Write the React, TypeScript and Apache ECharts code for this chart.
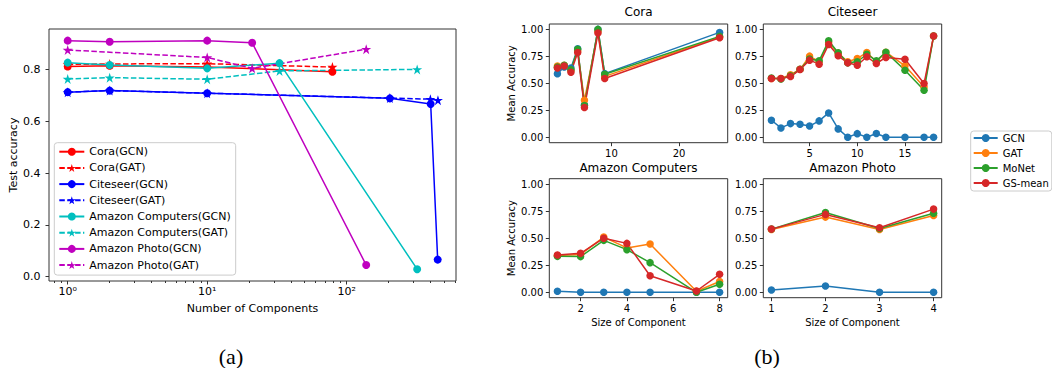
import React, { useEffect, useRef } from 'react';
import * as echarts from 'echarts';

// ---------- (a) Test accuracy vs number of components ----------
const coraGcnX = [1, 2, 10, 79];
const coraGcnY = [0.812, 0.815, 0.81, 0.792];
const coraGatX = [1, 2, 10, 79];
const coraGatY = [0.82, 0.822, 0.823, 0.81];
const citeseerGcnX = [1, 2, 10, 204, 400, 449];
const citeseerGcnY = [0.713, 0.719, 0.709, 0.689, 0.667, 0.066];
const citeseerGatX = [1, 2, 10, 204, 398, 451];
const citeseerGatY = [0.713, 0.719, 0.709, 0.69, 0.686, 0.682];
const compGcnX = [1, 2, 10, 33, 320];
const compGcnY = [0.827, 0.818, 0.805, 0.825, 0.029];
const compGatX = [1, 2, 10, 33, 320];
const compGatY = [0.764, 0.769, 0.763, 0.795, 0.801];
const photoGcnX = [1, 2, 10, 21, 138];
const photoGcnY = [0.912, 0.908, 0.912, 0.904, 0.045];
const photoGatX = [1, 10, 21, 138];
const photoGatY = [0.876, 0.847, 0.805, 0.879];

const leftNames = [
  'Cora(GCN)', 'Cora(GAT)', 'Citeseer(GCN)', 'Citeseer(GAT)',
  'Amazon Computers(GCN)', 'Amazon Computers(GAT)', 'Amazon Photo(GCN)', 'Amazon Photo(GAT)',
];
const logMajorTicks = [1, 10, 100];
const logTickLabels = ['10\u2070', '10\u00b9', '10\u00b2'];
const logMinorTicks = [0.8, 0.9, 2, 3, 4, 5, 6, 7, 8, 9, 20, 30, 40, 50, 60, 70, 80, 90, 200, 300, 400, 500, 600];
const leftYTicks = [0, 0.2, 0.4, 0.6, 0.8];

// ---------- (b) Mean accuracy vs size of component ----------
const methodNames = ['GCN', 'GAT', 'MoNet', 'GS-mean'];

const coraSizes = [2, 3, 4, 5, 6, 8, 9, 26];
const coraGCN = [0.59, 0.652, 0.643, 0.82, 0.3, 1.0, 0.59, 0.972];
const coraGAT = [0.66, 0.668, 0.62, 0.8, 0.343, 0.98, 0.565, 0.93];
const coraMoNet = [0.65, 0.668, 0.625, 0.815, 0.295, 1.0, 0.585, 0.935];
const coraGSmean = [0.643, 0.66, 0.603, 0.786, 0.276, 0.966, 0.545, 0.922];

const citeSizes = [1, 2, 3, 4, 5, 6, 7, 8, 9, 10, 11, 12, 13, 15, 17, 18];
const citeGCN = [0.158, 0.087, 0.127, 0.121, 0.104, 0.152, 0.226, 0.078, 0.0, 0.034, 0.0, 0.035, 0.0, 0.0, 0.0, 0.0];
const citeGAT = [0.545, 0.545, 0.58, 0.63, 0.752, 0.7, 0.88, 0.78, 0.7, 0.73, 0.786, 0.7, 0.789, 0.662, 0.467, 0.938];
const citeMoNet = [0.55, 0.54, 0.57, 0.63, 0.725, 0.709, 0.894, 0.783, 0.69, 0.7, 0.77, 0.71, 0.789, 0.622, 0.436, 0.938];
const citeGSmean = [0.545, 0.545, 0.563, 0.628, 0.715, 0.678, 0.86, 0.755, 0.69, 0.668, 0.746, 0.684, 0.74, 0.724, 0.498, 0.938];

const compSizes = [1, 2, 3, 4, 5, 7, 8];
const compGCN = [0.01, 0.0, 0.0, 0.0, 0.0, 0.0, 0.0];
const compGAT = [0.34, 0.35, 0.51, 0.41, 0.446, 0.01, 0.1];
const compMoNet = [0.332, 0.33, 0.48, 0.394, 0.274, 0.0, 0.074];
const compGSmean = [0.344, 0.36, 0.5, 0.452, 0.153, 0.012, 0.166];

const photoSizes = [1, 2, 3, 4];
const photoGCN = [0.021, 0.058, 0.0, 0.0];
const photoGAT = [0.58, 0.695, 0.58, 0.71];
const photoMoNet = [0.584, 0.738, 0.59, 0.73];
const photoGSmean = [0.584, 0.72, 0.597, 0.769];

const panelTitles = ['Cora', 'Citeseer', 'Amazon Computers', 'Amazon Photo'];
const panelSizes = [coraSizes, citeSizes, compSizes, photoSizes];
const panelValues = [
  [coraGCN, coraGAT, coraMoNet, coraGSmean],
  [citeGCN, citeGAT, citeMoNet, citeGSmean],
  [compGCN, compGAT, compMoNet, compGSmean],
  [photoGCN, photoGAT, photoMoNet, photoGSmean],
];
const panelXTicks = [[10, 20], [5, 10, 15], [2, 4, 6, 8], [1, 2, 3, 4]];
const panelXRange = [[0.8, 27.2], [0.15, 18.85], [0.65, 8.35], [0.85, 4.15]];
const rightYTicks = [0, 0.25, 0.5, 0.75, 1.0];

const FONT = 'DejaVu Sans';
const AX = '#333333';
const STAR = 'path://M0,-10L2.245,-3.09L9.511,-3.09L3.633,1.18L5.878,8.09L0,3.82L-5.878,8.09L-3.633,1.18L-9.511,-3.09L-2.245,-3.09Z';
const leftColors = ['#ff0000', '#ff0000', '#0000ff', '#0000ff', '#00bfbf', '#00bfbf', '#bf00bf', '#bf00bf'];
const rightColors = ['#1f77b4', '#ff7f0e', '#2ca02c', '#d62728'];

// layout of the four small panels: [left, top, width, height]
const panelBoxes = [
  [549.3, 24, 178.4, 118.7],
  [763.3, 24, 178.4, 118.7],
  [549.3, 178.7, 178.4, 119],
  [763.3, 178.7, 178.4, 119],
];

function buildOption() {
  const leftXs = [coraGcnX, coraGatX, citeseerGcnX, citeseerGatX, compGcnX, compGatX, photoGcnX, photoGatX];
  const leftYs = [coraGcnY, coraGatY, citeseerGcnY, citeseerGatY, compGcnY, compGatY, photoGcnY, photoGatY];

  const txt = (size: number) => ({ fontFamily: FONT, fontSize: size, color: '#000' });

  const grid: any[] = [
    { left: 49, top: 29, width: 407, height: 252, show: true, borderColor: AX, borderWidth: 1, backgroundColor: 'transparent', containLabel: false },
  ];
  panelBoxes.forEach((b) => {
    grid.push({ left: b[0], top: b[1], width: b[2], height: b[3], show: true, borderColor: AX, borderWidth: 1, backgroundColor: 'transparent', containLabel: false });
  });

  const xAxis: any[] = [
    {
      type: 'log', logBase: 10, gridIndex: 0, position: 'bottom', min: 0.7345, max: 607.5,
      axisLine: { show: false, onZero: false }, splitLine: { show: false },
      axisTick: { show: true, length: 3.5, lineStyle: { color: AX }, customValues: logMajorTicks },
      axisLabel: {
        customValues: logMajorTicks, margin: 5, ...txt(11),
        formatter: (v: number) => logTickLabels[Math.round(Math.log10(v))],
      },
      name: 'Number of Components', nameLocation: 'middle', nameGap: 22, nameTextStyle: txt(11),
    },
    {
      type: 'log', logBase: 10, gridIndex: 0, position: 'bottom', min: 0.7345, max: 607.5,
      axisLine: { show: false, onZero: false }, splitLine: { show: false },
      axisTick: { show: true, length: 2, lineStyle: { color: AX }, customValues: logMinorTicks },
      axisLabel: { show: false },
    },
  ];
  const yAxis: any[] = [
    {
      type: 'value', gridIndex: 0, min: -0.0166, max: 0.957,
      axisLine: { show: false, onZero: false }, splitLine: { show: false },
      axisTick: { show: true, length: 3.5, lineStyle: { color: AX }, customValues: leftYTicks },
      axisLabel: { customValues: leftYTicks, margin: 8.5, ...txt(11), formatter: (v: number) => v.toFixed(1) },
      name: 'Test accuracy', nameLocation: 'middle', nameGap: 30, nameTextStyle: txt(11),
    },
  ];

  panelBoxes.forEach((b, i) => {
    xAxis.push({
      type: 'value', gridIndex: i + 1, position: 'bottom', min: panelXRange[i][0], max: panelXRange[i][1],
      axisLine: { show: false, onZero: false }, splitLine: { show: false },
      axisTick: { show: true, length: 3.5, lineStyle: { color: AX }, customValues: panelXTicks[i] },
      axisLabel: { customValues: panelXTicks[i], margin: 6, ...txt(10) },
      name: i >= 2 ? 'Size of Component' : '', nameLocation: 'middle', nameGap: 20, nameTextStyle: txt(10),
    });
    yAxis.push({
      type: 'value', gridIndex: i + 1, min: -0.05, max: 1.05,
      axisLine: { show: false, onZero: false }, splitLine: { show: false },
      axisTick: { show: true, length: 3.5, lineStyle: { color: AX }, customValues: rightYTicks },
      axisLabel: { customValues: rightYTicks, margin: 6, ...txt(10), formatter: (v: number) => v.toFixed(2) },
      name: i % 2 === 0 ? 'Mean Accuracy' : '', nameLocation: 'middle', nameGap: 33, nameTextStyle: txt(10),
    });
  });

  const series: any[] = [];
  leftNames.forEach((name, i) => {
    const dashed = i % 2 === 1;
    const c = leftColors[i];
    series.push({
      type: 'line', name, xAxisIndex: 0, yAxisIndex: 0,
      data: leftXs[i].map((x, j) => [x, leftYs[i][j]]),
      symbol: dashed ? STAR : 'circle', symbolSize: dashed ? 10 : 8, showAllSymbol: true,
      lineStyle: { color: c, width: 1.5, type: dashed ? [5.5, 2.4] : 'solid' },
      itemStyle: { color: c },
      clip: false, silent: true, emphasis: { disabled: true },
    });
  });
  panelValues.forEach((vals, p) => {
    vals.forEach((ys, m) => {
      series.push({
        type: 'line', name: methodNames[m], xAxisIndex: p + 2, yAxisIndex: p + 1,
        data: panelSizes[p].map((x, j) => [x, ys[j]]),
        symbol: 'circle', symbolSize: 7.5, showAllSymbol: true,
        lineStyle: { color: rightColors[m], width: 1.5 },
        itemStyle: { color: rightColors[m] },
        clip: false, silent: true, emphasis: { disabled: true },
      });
    });
  });

  const title: any[] = panelTitles.map((t, i) => ({
    text: t, left: panelBoxes[i][0] + panelBoxes[i][2] / 2, top: i < 2 ? 6 : 161.5, textAlign: 'center', padding: 0,
    textStyle: { ...txt(12), fontWeight: 'normal' },
  }));
  title.push({ text: '(a)', left: 231, top: 345, textAlign: 'center', padding: 0, textStyle: { fontFamily: 'Liberation Serif', fontSize: 22, fontWeight: 'normal', color: '#000' } });
  title.push({ text: '(b)', left: 767, top: 345, textAlign: 'center', padding: 0, textStyle: { fontFamily: 'Liberation Serif', fontSize: 22, fontWeight: 'normal', color: '#000' } });

  const legend: any[] = [
    {
      data: leftNames, orient: 'vertical', left: 54.3, top: 142.7,
      itemWidth: 25, itemHeight: 10, itemGap: 4.2, padding: [3, 5, 4, 4],
      backgroundColor: 'rgba(255,255,255,0.8)', borderColor: '#cccccc', borderWidth: 1, borderRadius: 3,
      textStyle: { ...txt(11), lineHeight: 12 }, selectedMode: false,
    },
    {
      data: methodNames, orient: 'vertical', left: 970.7, top: 131,
      itemWidth: 24, itemHeight: 10, itemGap: 5, padding: [2, 3, 3, 2],
      backgroundColor: 'rgba(255,255,255,0.8)', borderColor: '#cccccc', borderWidth: 1, borderRadius: 3,
      textStyle: { ...txt(10), lineHeight: 10 }, selectedMode: false,
    },
  ];

  return { animation: false, textStyle: { fontFamily: FONT }, title, legend, grid, xAxis, yAxis, series };
}

export default function App() {
  const ref = useRef<HTMLDivElement>(null);
  useEffect(() => {
    if (!ref.current) return;
    const chart = echarts.init(ref.current, undefined, { renderer: 'svg' });
    chart.setOption(buildOption() as any);
    return () => chart.dispose();
  }, []);
  return (
    <div
      ref={ref}
      style={{ position: 'fixed', left: 0, top: 0, width: 1052, height: 368, background: '#fff' }}
    />
  );
}
